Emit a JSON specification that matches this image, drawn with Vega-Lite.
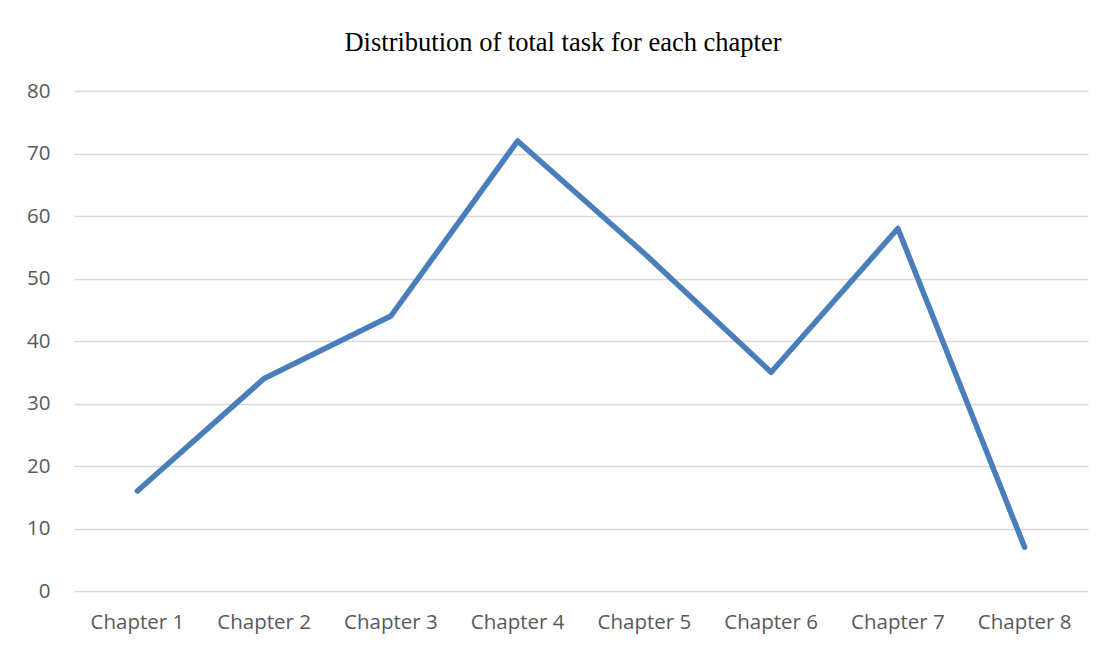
{
  "$schema": "https://vega.github.io/schema/vega-lite/v6.json",
  "autosize": "none",
  "width": 1014,
  "height": 500,
  "padding": {"left": 74, "top": 91, "right": 22, "bottom": 58},
  "background": "white",
  "title": {
    "text": "Distribution of total task for each chapter",
    "font": "Liberation Serif",
    "fontSize": 26.5,
    "fontWeight": "normal",
    "color": "#000000",
    "anchor": "middle",
    "frame": "group",
    "dx": -18,
    "offset": 25
  },
  "config": {
    "view": {"stroke": null},
    "axis": {"labelFont": "Open Sans", "labelColor": "#595959", "labelFontSize": 20.5}
  },
  "data": {
    "values": [
      {"chapter": "Chapter 1", "tasks": 16},
      {"chapter": "Chapter 2", "tasks": 34},
      {"chapter": "Chapter 3", "tasks": 44},
      {"chapter": "Chapter 4", "tasks": 72},
      {"chapter": "Chapter 5", "tasks": 54},
      {"chapter": "Chapter 6", "tasks": 35},
      {"chapter": "Chapter 7", "tasks": 58},
      {"chapter": "Chapter 8", "tasks": 7}
    ]
  },
  "mark": {"type": "line", "color": "#4a7ebb", "strokeWidth": 5.5, "strokeCap": "round", "strokeJoin": "round"},
  "encoding": {
    "x": {
      "field": "chapter",
      "type": "nominal",
      "sort": null,
      "scale": {"type": "band", "paddingInner": 0, "paddingOuter": 0},
      "axis": {"title": null, "labelAngle": 0, "domain": false, "ticks": false, "labelPadding": 21, "grid": false}
    },
    "y": {
      "field": "tasks",
      "type": "quantitative",
      "scale": {"domain": [0, 80], "nice": false},
      "axis": {"title": null, "values": [0, 10, 20, 30, 40, 50, 60, 70, 80], "domain": false, "ticks": false, "labelPadding": 24, "gridColor": "#d9d9d9", "gridWidth": 1.5}
    }
  }
}
